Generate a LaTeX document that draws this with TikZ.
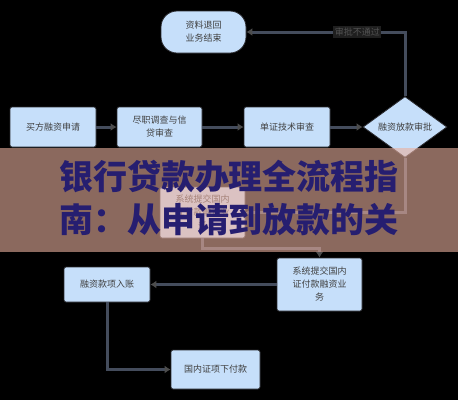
\documentclass[tikz,border=0pt]{standalone}
\usepackage{fontspec}
\newfontfamily\cjk{Noto Sans CJK SC}
\usetikzlibrary{shapes.geometric,arrows.meta}
\definecolor{boxfill}{RGB}{198,223,250}
\definecolor{boxline}{RGB}{40,40,44}
\definecolor{flowline}{RGB}{68,76,92}
\definecolor{banner}{RGB}{233,175,158}
\definecolor{titleblue}{RGB}{38,30,112}
\begin{document}
\begin{tikzpicture}[x=1pt,y=-1pt,
    box/.style={draw=boxline,line width=0.8pt,fill=boxfill,rounded corners=2pt,
        minimum width=86pt,minimum height=40pt,align=center,inner sep=1pt,
        font=\cjk\fontsize{9}{13}\selectfont,text=black!75},
    flow/.style={draw=flowline,line width=3pt,-{Latex[length=6pt,width=8pt,color=black!70]}},
    ]
        \def\ytop{127}
        \fill [black] (0,0) rectangle (458,400);
        \useasboundingbox (0,0) rectangle (458,400);
        % first row
        \node [box,rounded corners=16pt,minimum width=85pt,minimum height=42pt] (back) at (203.5,32) {资料退回\\业务结束};
        \node [box] (buyer) at (53,\ytop) {买方融资申请};
        \node [box,minimum width=85pt] (survey) at (159.5,\ytop) {尽职调查与信\\贷审查};
        \node [box] (docs) at (287,\ytop) {单证技术审查};
        \node [box,shape=diamond,rounded corners=0pt,aspect=1.38,minimum width=84pt,minimum height=61pt,inner sep=0pt] (approve) at (405,\ytop) {融资放款审批};
        % under the banner
        \node [box,minimum width=85pt,minimum height=51pt] (ghost) at (202.5,212.5) {系统提交国内\\证付款融资业\\务};
        % lower part
        \node [box,minimum width=85pt,minimum height=53pt] (submit) at (319.5,284.5) {系统提交国内\\证付款融资业\\务};
        \node [box,minimum height=35pt] (credit) at (107,284.5) {融资款项入账};
        \node [box,minimum width=89pt,minimum height=39pt] (pay) at (215.5,369.5) {国内证项下付款};
        \draw [flow] (buyer) -- (survey);
        \draw [flow] (survey) -- (docs);
        \draw [flow] (docs) -- (approve);
        \draw [flow] (approve.north) |- (back.east)
            node [pos=0.65,fill=black!88,text=black!68,inner sep=1.5pt,font=\cjk\fontsize{9}{9}\selectfont] (no) {审批不通过};
        \draw [flow] (approve.south) |- (ghost.east);
        \draw [flow] (ghost.south) -- ++(0,10) -| (submit.north);
        \draw [flow] (submit) -- (credit);
        \draw [flow] (credit.south) |- (pay.west);
        % banner over the chart
        \fill [banner,fill opacity=0.6] (0,148) rectangle (458,252);
        \node [text=titleblue,font=\cjk\bfseries\fontsize{34}{43}\selectfont,align=center] (title) at (229,198.5)
            {银行贷款办理全流程指\\南：从申请到放款的关};
\end{tikzpicture}
\end{document}
